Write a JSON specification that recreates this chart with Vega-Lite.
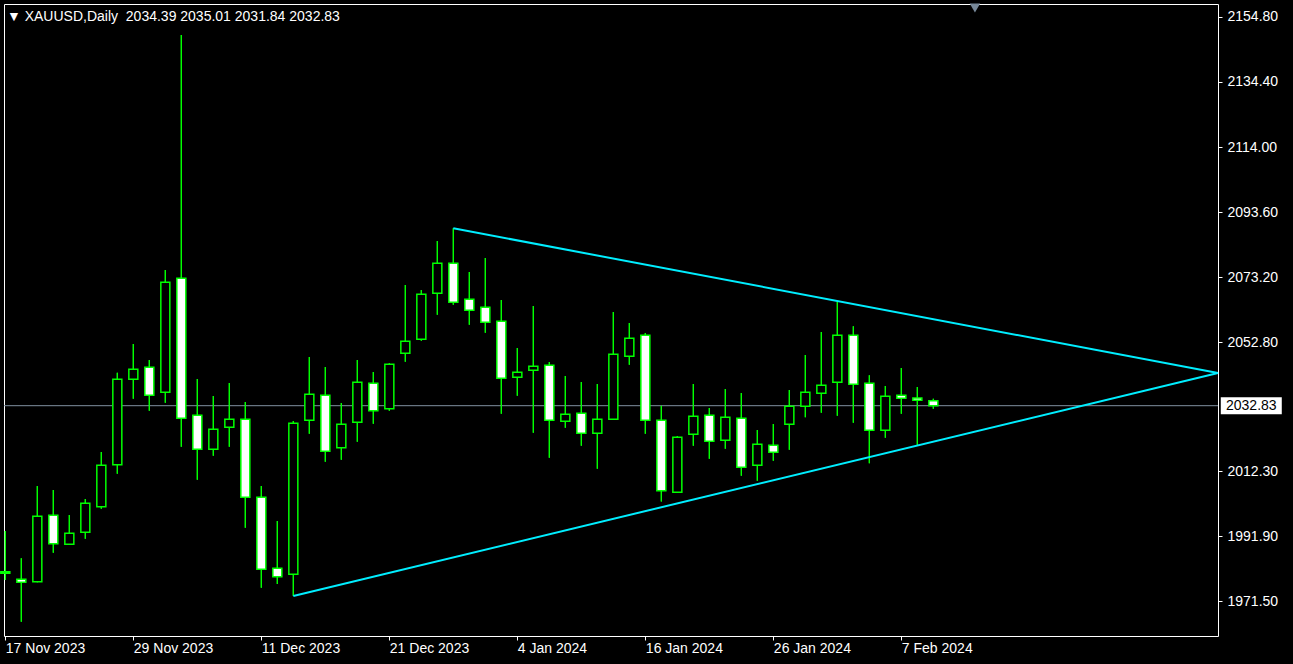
{
  "$schema": "https://vega.github.io/schema/vega-lite/v6.json",
  "width": 1214,
  "height": 632,
  "autosize": "none",
  "padding": {"left": 4, "top": 4, "right": 75, "bottom": 28},
  "background": "black",
  "config": {
    "view": {"stroke": "white", "strokeWidth": 1, "fill": "black"},
    "axis": {"title": null, "grid": false, "domain": false, "labelFont": "Liberation Sans", "labelFontSize": 14, "labelColor": "white", "tickColor": "white", "tickSize": 4, "labelFlush": false, "labelOverlap": false}
  },
  "datasets": {
    "candles": [
      {"i": 0, "date": "2023-11-17", "open": 1980.75, "high": 1993.52, "low": 1978.14, "close": 1980.25},
      {"i": 1, "date": "2023-11-20", "open": 1978.36, "high": 1984.95, "low": 1965.06, "close": 1977.42},
      {"i": 2, "date": "2023-11-21", "open": 1977.61, "high": 2007.64, "low": 1977.4, "close": 1998.13},
      {"i": 3, "date": "2023-11-22", "open": 1998.44, "high": 2006.38, "low": 1986.71, "close": 1989.53},
      {"i": 4, "date": "2023-11-23", "open": 1989.34, "high": 1998.54, "low": 1989.2, "close": 1992.79},
      {"i": 5, "date": "2023-11-24", "open": 1993.11, "high": 2003.56, "low": 1991.10, "close": 2002.21},
      {"i": 6, "date": "2023-11-27", "open": 2001.14, "high": 2018.31, "low": 2000.51, "close": 2014.13},
      {"i": 7, "date": "2023-11-28", "open": 2014.32, "high": 2043.19, "low": 2011.50, "close": 2041.12},
      {"i": 8, "date": "2023-11-29", "open": 2041.12, "high": 2052.19, "low": 2035.03, "close": 2044.26},
      {"i": 9, "date": "2023-11-30", "open": 2044.88, "high": 2047.17, "low": 2031.27, "close": 2036.10},
      {"i": 10, "date": "2023-12-01", "open": 2037.04, "high": 2075.41, "low": 2033.77, "close": 2071.55},
      {"i": 11, "date": "2023-12-04", "open": 2072.81, "high": 2149.15, "low": 2019.97, "close": 2028.88},
      {"i": 12, "date": "2023-12-05", "open": 2029.82, "high": 2041.21, "low": 2009.61, "close": 2019.15},
      {"i": 13, "date": "2023-12-06", "open": 2019.15, "high": 2035.88, "low": 2017.14, "close": 2025.43},
      {"i": 14, "date": "2023-12-07", "open": 2026.06, "high": 2039.96, "low": 2019.97, "close": 2028.57},
      {"i": 15, "date": "2023-12-08", "open": 2028.57, "high": 2033.99, "low": 1994.55, "close": 2004.09},
      {"i": 16, "date": "2023-12-11", "open": 2004.09, "high": 2007.64, "low": 1975.72, "close": 1981.50},
      {"i": 17, "date": "2023-12-12", "open": 1981.81, "high": 1996.66, "low": 1976.88, "close": 1979.18},
      {"i": 18, "date": "2023-12-13", "open": 1979.93, "high": 2028.03, "low": 1973.12, "close": 2027.31},
      {"i": 19, "date": "2023-12-14", "open": 2028.25, "high": 2048.11, "low": 2024.05, "close": 2036.41},
      {"i": 20, "date": "2023-12-15", "open": 2036.10, "high": 2044.98, "low": 2015.26, "close": 2018.53},
      {"i": 21, "date": "2023-12-18", "open": 2019.66, "high": 2033.68, "low": 2015.89, "close": 2026.99},
      {"i": 22, "date": "2023-12-19", "open": 2027.62, "high": 2047.17, "low": 2021.54, "close": 2040.18},
      {"i": 23, "date": "2023-12-20", "open": 2039.86, "high": 2043.41, "low": 2027.19, "close": 2031.27},
      {"i": 24, "date": "2023-12-21", "open": 2031.89, "high": 2046.13, "low": 2031.27, "close": 2045.82},
      {"i": 25, "date": "2023-12-22", "open": 2049.27, "high": 2070.69, "low": 2046.64, "close": 2053.04},
      {"i": 26, "date": "2023-12-26", "open": 2053.67, "high": 2069.14, "low": 2053.23, "close": 2067.79},
      {"i": 27, "date": "2023-12-27", "open": 2068.10, "high": 2084.51, "low": 2061.39, "close": 2077.51},
      {"i": 28, "date": "2023-12-28", "open": 2077.51, "high": 2088.50, "low": 2064.53, "close": 2065.28},
      {"i": 29, "date": "2023-12-29", "open": 2066.22, "high": 2074.78, "low": 2058.25, "close": 2062.77},
      {"i": 30, "date": "2024-01-02", "open": 2063.71, "high": 2079.18, "low": 2055.74, "close": 2059.00},
      {"i": 31, "date": "2024-01-03", "open": 2059.32, "high": 2066.00, "low": 2030.33, "close": 2041.43},
      {"i": 32, "date": "2024-01-04", "open": 2041.74, "high": 2050.94, "low": 2035.97, "close": 2043.31},
      {"i": 33, "date": "2024-01-05", "open": 2043.94, "high": 2064.12, "low": 2024.36, "close": 2045.19},
      {"i": 34, "date": "2024-01-08", "open": 2045.51, "high": 2046.54, "low": 2016.52, "close": 2028.25},
      {"i": 35, "date": "2024-01-09", "open": 2027.94, "high": 2042.15, "low": 2025.93, "close": 2030.14},
      {"i": 36, "date": "2024-01-10", "open": 2030.45, "high": 2040.27, "low": 2020.28, "close": 2024.17},
      {"i": 37, "date": "2024-01-11", "open": 2024.17, "high": 2039.64, "low": 2013.07, "close": 2028.57},
      {"i": 38, "date": "2024-01-12", "open": 2028.57, "high": 2062.24, "low": 2028.4, "close": 2048.96},
      {"i": 39, "date": "2024-01-15", "open": 2048.33, "high": 2058.78, "low": 2045.70, "close": 2053.98},
      {"i": 40, "date": "2024-01-16", "open": 2054.92, "high": 2055.65, "low": 2024.05, "close": 2028.25},
      {"i": 41, "date": "2024-01-17", "open": 2028.25, "high": 2032.83, "low": 2002.8, "close": 2006.16},
      {"i": 42, "date": "2024-01-18", "open": 2005.66, "high": 2023.32, "low": 2005.5, "close": 2022.92},
      {"i": 43, "date": "2024-01-19", "open": 2023.86, "high": 2039.64, "low": 2020.28, "close": 2029.51},
      {"i": 44, "date": "2024-01-22", "open": 2029.82, "high": 2032.11, "low": 2016.21, "close": 2021.66},
      {"i": 45, "date": "2024-01-23", "open": 2021.98, "high": 2038.07, "low": 2019.34, "close": 2029.19},
      {"i": 46, "date": "2024-01-24", "open": 2028.88, "high": 2036.82, "low": 2010.87, "close": 2013.51},
      {"i": 47, "date": "2024-01-25", "open": 2014.13, "high": 2025.21, "low": 2009.30, "close": 2020.72},
      {"i": 48, "date": "2024-01-26", "open": 2020.41, "high": 2027.09, "low": 2015.57, "close": 2018.21},
      {"i": 49, "date": "2024-01-29", "open": 2027.00, "high": 2037.76, "low": 2019.03, "close": 2032.65},
      {"i": 50, "date": "2024-01-30", "open": 2032.65, "high": 2048.74, "low": 2029.19, "close": 2037.04},
      {"i": 51, "date": "2024-01-31", "open": 2036.72, "high": 2055.96, "low": 2030.64, "close": 2039.23},
      {"i": 52, "date": "2024-02-01", "open": 2040.18, "high": 2065.47, "low": 2029.70, "close": 2054.92},
      {"i": 53, "date": "2024-02-02", "open": 2054.92, "high": 2057.75, "low": 2027.50, "close": 2039.55},
      {"i": 54, "date": "2024-02-05", "open": 2039.86, "high": 2042.37, "low": 2014.76, "close": 2025.12},
      {"i": 55, "date": "2024-02-06", "open": 2025.12, "high": 2039.02, "low": 2022.79, "close": 2035.78},
      {"i": 56, "date": "2024-02-07", "open": 2036.10, "high": 2044.66, "low": 2030.33, "close": 2035.16},
      {"i": 57, "date": "2024-02-08", "open": 2035.24, "high": 2038.70, "low": 2020.41, "close": 2034.52},
      {"i": 58, "date": "2024-02-09", "open": 2034.39, "high": 2035.01, "low": 2031.84, "close": 2032.83}
    ],
    "trend": [
      {"line": "upper", "i1": 28, "p1": 2088.5, "i2": 75.79, "p2": 2043.09},
      {"line": "lower", "i1": 18, "p1": 1973.12, "i2": 75.79, "p2": 2043.09}
    ],
    "last": [{"price": 2032.83}]
  },
  "layer": [
    {
      "data": {"name": "candles"},
      "mark": {"type": "rule", "color": "#00ff00", "strokeWidth": 1.2},
      "encoding": {
        "x": {
          "field": "i", "type": "quantitative",
          "scale": {"domain": [-0.083, 75.79], "nice": false, "zero": false, "padding": 0},
          "axis": {
            "orient": "bottom",
            "values": [0, 8, 16, 24, 32, 40, 48, 56],
            "labelExpr": "['17 Nov 2023','29 Nov 2023','11 Dec 2023','21 Dec 2023','4 Jan 2024','16 Jan 2024','26 Jan 2024','7 Feb 2024'][round(datum.value/8)]",
            "labelAlign": "left",
            "labelBaseline": "top",
            "labelPadding": 1,
            "tickSize": 4
          }
        },
        "y": {
          "field": "low", "type": "quantitative",
          "scale": {"domain": [1960.57, 2158.87], "nice": false, "zero": false, "padding": 0},
          "axis": {
            "orient": "right",
            "values": [2154.8, 2134.4, 2114.0, 2093.6, 2073.2, 2052.8, 2012.3, 1991.9, 1971.5],
            "format": ".2f",
            "labelBaseline": "middle",
            "labelPadding": 5,
            "tickSize": 4
          }
        },
        "y2": {"field": "high"}
      }
    },
    {
      "data": {"name": "last"},
      "mark": {"type": "rule", "color": "#8090a0", "strokeWidth": 1},
      "encoding": {
        "y": {"field": "price", "type": "quantitative"}
      }
    },
    {
      "data": {"name": "candles"},
      "mark": {"type": "rule", "color": "#00ff00", "strokeWidth": 1.2},
      "encoding": {
        "x": {"field": "i", "type": "quantitative"},
        "y": {"field": "low", "type": "quantitative"},
        "y2": {"field": "high"}
      }
    },
    {
      "data": {"name": "candles"},
      "mark": {"type": "bar", "size": 9, "stroke": "#00ff00", "strokeWidth": 1.5},
      "encoding": {
        "x": {"field": "i", "type": "quantitative"},
        "y": {"field": "open", "type": "quantitative"},
        "y2": {"field": "close"},
        "fill": {"condition": {"test": "datum.close < datum.open", "value": "white"}, "value": "black"}
      }
    },
    {
      "data": {"name": "trend"},
      "mark": {"type": "rule", "color": "#00eeff", "strokeWidth": 2},
      "encoding": {
        "x": {"field": "i1", "type": "quantitative"},
        "x2": {"field": "i2"},
        "y": {"field": "p1", "type": "quantitative"},
        "y2": {"field": "p2"}
      }
    },
    {
      "data": {"name": "last"},
      "mark": {"type": "tick", "orient": "horizontal", "color": "white", "opacity": 1, "size": 61, "thickness": 17},
      "encoding": {
        "x": {"datum": 77.87, "type": "quantitative"},
        "y": {"field": "price", "type": "quantitative"}
      }
    },
    {
      "data": {"name": "last"},
      "mark": {"type": "text", "color": "black", "font": "Liberation Sans", "fontSize": 14, "align": "center", "baseline": "middle"},
      "encoding": {
        "x": {"datum": 77.87, "type": "quantitative"},
        "y": {"field": "price", "type": "quantitative"},
        "text": {"field": "price", "type": "quantitative", "format": ".2f"}
      }
    },
    {
      "data": {"values": [{"label": "▼\u00a0XAUUSD,Daily\u00a0\u00a02034.39 2035.01 2031.84 2032.83"}]},
      "mark": {"type": "text", "color": "white", "font": "Liberation Sans", "fontSize": 14, "align": "left", "baseline": "alphabetic"},
      "encoding": {
        "x": {"datum": 0.1, "type": "quantitative"},
        "y": {"datum": 2153.64, "type": "quantitative"},
        "text": {"field": "label"}
      }
    },
    {
      "data": {"values": [{"marker": "shift"}]},
      "mark": {"type": "point", "shape": "triangle-down", "filled": true, "color": "#778899", "opacity": 1, "size": 110},
      "encoding": {
        "x": {"datum": 60.6, "type": "quantitative"},
        "y": {"datum": 2157.6, "type": "quantitative"}
      }
    }
  ]
}
